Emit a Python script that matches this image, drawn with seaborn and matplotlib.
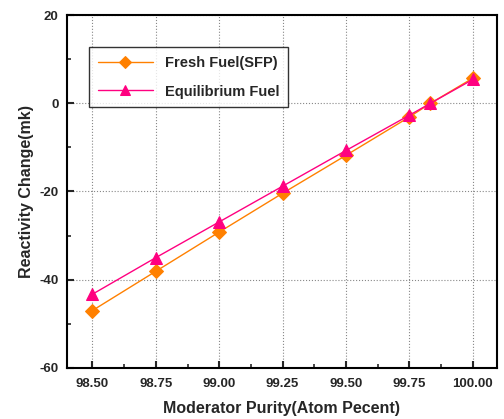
import matplotlib
matplotlib.use("Agg")
import matplotlib.pyplot as plt
import seaborn as sns
import pandas as pd
from matplotlib.ticker import MultipleLocator

purity = [98.50, 98.75, 99.00, 99.25, 99.50, 99.75, 99.833, 100.00]
fresh_fuel = [-47.0, -38.1, -29.2, -20.4, -11.8, -3.1, 0.0, 5.7]
equilibrium_fuel = [-43.3, -35.0, -26.9, -18.8, -10.7, -2.7, 0.0, 5.4]
series_names = ["Fresh Fuel(SFP)", "Equilibrium Fuel"]
xtick_vals = [98.50, 98.75, 99.00, 99.25, 99.50, 99.75, 100.00]
ytick_vals = [-60, -40, -20, 0, 20]

sns.set_theme(style="white")
plt.rcParams['font.family'] = ['Liberation Sans', 'DejaVu Sans']
plt.rcParams['font.weight'] = 'bold'
plt.rcParams['axes.unicode_minus'] = False

fig = plt.figure(figsize=(5.04, 4.19), dpi=100)
ax = fig.add_axes([0.133, 0.122, 0.853, 0.842])

sns.lineplot(x=purity, y=fresh_fuel, ax=ax, color="#FF8000", marker="D",
             markersize=7, markeredgecolor="#FF8000", linewidth=1.0,
             label=series_names[0])
sns.lineplot(x=purity, y=equilibrium_fuel, ax=ax, color="#FF0080", marker="^",
             markersize=8.5, markeredgecolor="#FF0080", linewidth=1.0,
             label=series_names[1])

ax.set_xlim(98.40, 100.095)
ax.set_ylim(-60, 20)
ax.set_xticks(xtick_vals)
ax.set_xticklabels([f"{v:.2f}" for v in xtick_vals])
ax.set_yticks(ytick_vals)
ax.xaxis.set_minor_locator(MultipleLocator(0.125))
ax.yaxis.set_minor_locator(MultipleLocator(10))
ax.tick_params(axis='both', which='major', direction='in', length=5, width=1.5,
               labelsize=9.5, bottom=True, left=True, top=False, right=False)
ax.tick_params(axis='x', which='major', pad=7)
ax.tick_params(axis='y', which='major', pad=6)
ax.tick_params(axis='both', which='minor', direction='in', length=3, width=1.2,
               bottom=True, left=True, top=False, right=False)
for lab in ax.get_xticklabels() + ax.get_yticklabels():
    lab.set_fontweight('bold')

ax.grid(True, which='major', linestyle=':', color='#888888', linewidth=0.8)
for sp in ax.spines.values():
    sp.set_linewidth(1.5)
    sp.set_color('black')

ax.set_xlabel("Moderator Purity(Atom Pecent)", fontsize=11.5, fontweight='bold', labelpad=8)
ax.set_ylabel("Reactivity Change(mk)", fontsize=11.5, fontweight='bold', labelpad=4)

leg = ax.legend(loc='upper left', bbox_to_anchor=(0.051, 0.909), borderaxespad=0,
                frameon=True, fancybox=False, edgecolor='black', fontsize=10.5,
                handlelength=3.8, borderpad=0.6, labelspacing=1.0,
                handletextpad=0.8, markerscale=0.9)
leg.get_frame().set_linewidth(1.0)
for t in leg.get_texts():
    t.set_fontweight('bold')

fig.savefig("out.png", dpi=100)
